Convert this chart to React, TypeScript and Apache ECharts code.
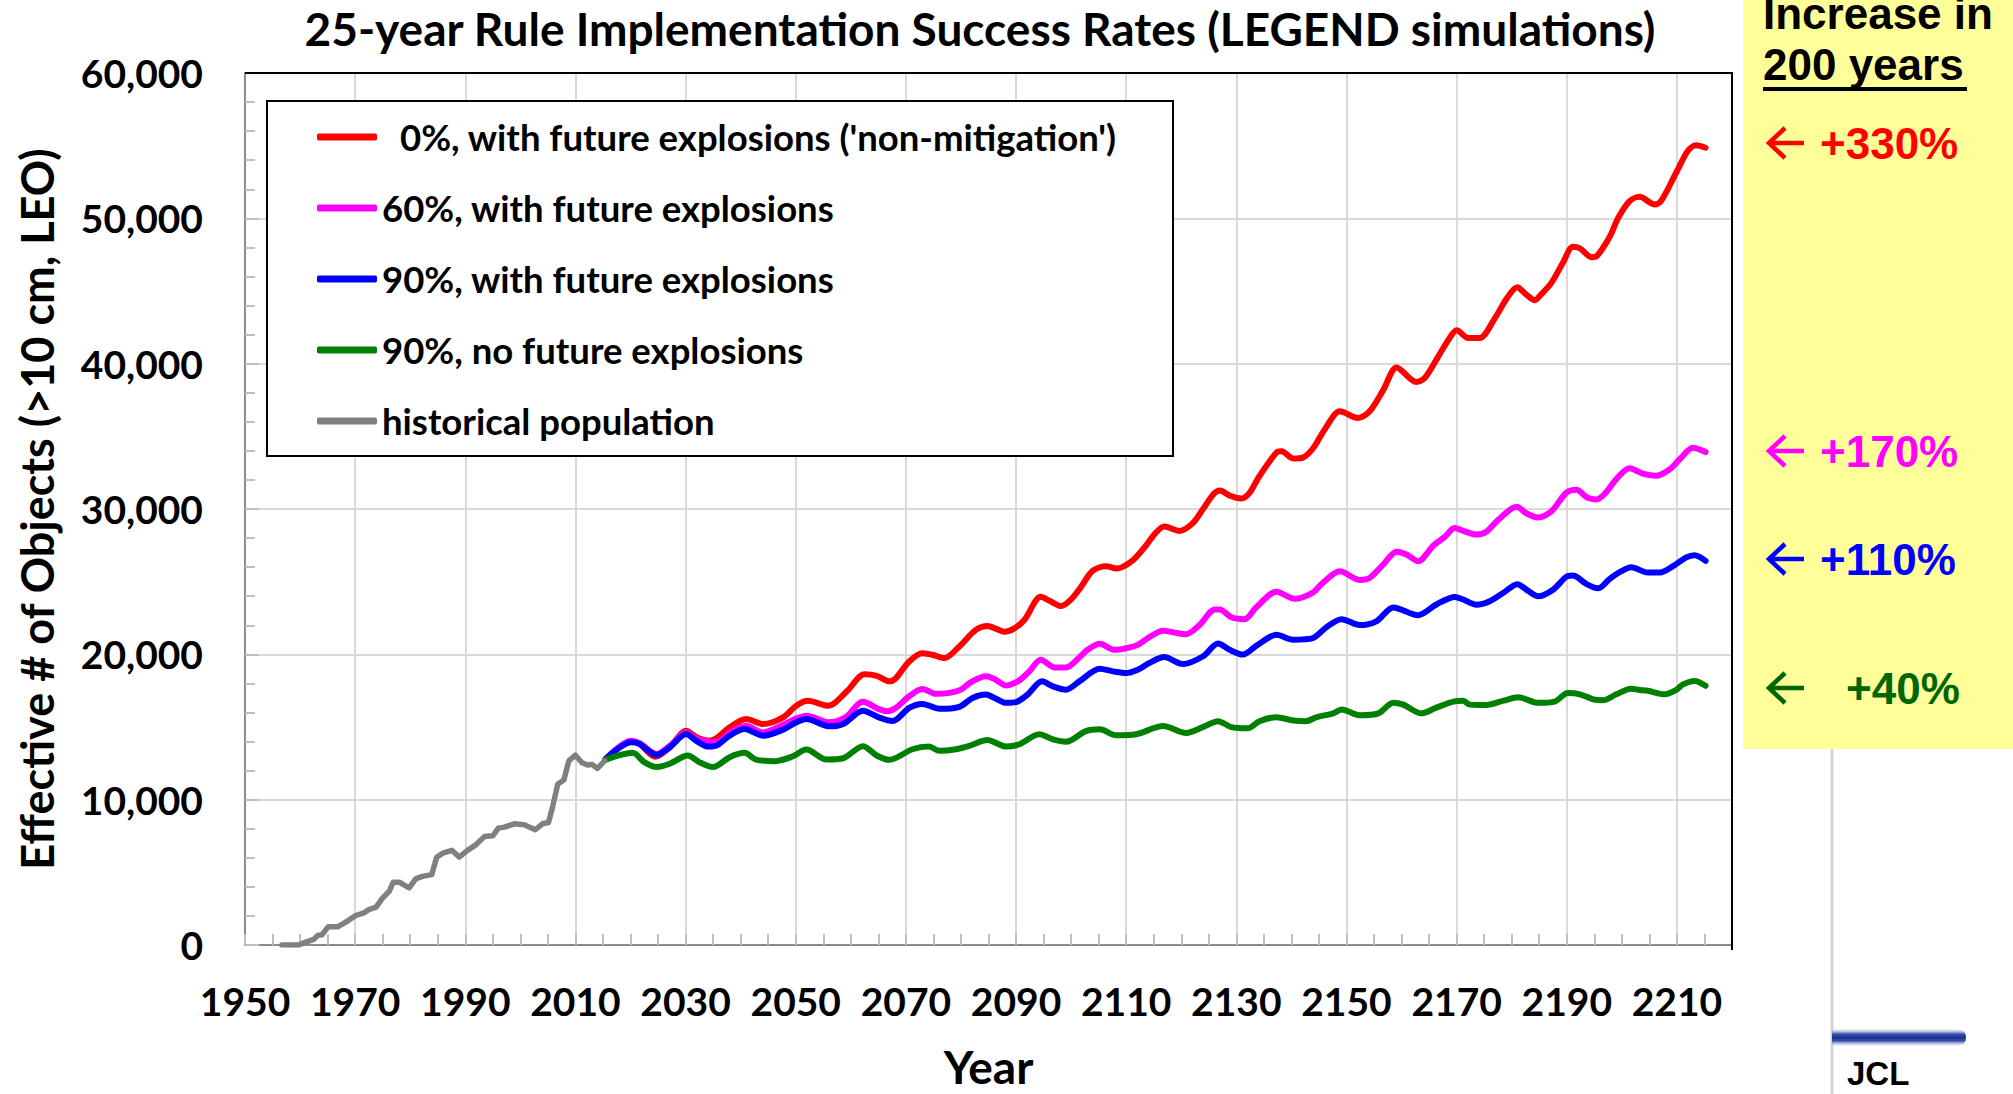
import React, { useEffect, useRef } from "react";
import * as echarts from "echarts";

const TITLE = "25-year Rule Implementation Success Rates (LEGEND simulations)";
const Y_NAME = "Effective # of Objects (>10 cm, LEO)";
const X_NAME = "Year";

const SERIES_NAMES = [
  "0%, with future explosions ('non-mitigation')",
  "60%, with future explosions",
  "90%, with future explosions",
  "90%, no future explosions",
  "historical population",
];
const SERIES_COLORS = ["#ff0000", "#ff00ff", "#0000ff", "#008000", "#808080"];

const X_MIN = 1950;
const X_MAX = 2220;
const Y_MAX = 60000;

const INCREASE_LABELS = ["+330%", "+170%", "+110%", "+40%"];
const INCREASE_COLORS = ["#ff0000", "#ff00ff", "#0000ff", "#006600"];

const nonMitigation: [number, number][] = [
  [2015.5, 12800], [2020.1, 14000], [2021.6, 13850], [2024.5, 12950], [2027.1, 13600],
  [2030.1, 14750], [2032.0, 14300], [2034.4, 14060], [2035.6, 14220], [2038.0, 14980],
  [2041.0, 15550], [2044.1, 15200], [2047.7, 15660], [2050.1, 16460], [2052.2, 16800],
  [2055.9, 16460], [2059.2, 17420], [2062.5, 18630], [2064.7, 18520], [2067.0, 18140],
  [2068.2, 18370], [2070.6, 19510], [2073.0, 20080], [2074.8, 19970], [2077.0, 19740],
  [2079.7, 20540], [2082.7, 21680], [2084.8, 21950], [2087.9, 21560], [2089.7, 21790],
  [2091.5, 22360], [2094.5, 23960], [2096.1, 23680], [2098.2, 23320], [2100.0, 23780],
  [2101.8, 24640], [2103.9, 25740], [2106.4, 26060], [2108.2, 25900], [2111.2, 26470],
  [2113.6, 27490], [2115.2, 28290], [2116.9, 28790], [2119.7, 28490], [2122.1, 29030],
  [2123.9, 29970], [2125.8, 31000], [2127.0, 31270], [2128.8, 30920], [2130.9, 30730],
  [2132.4, 31110], [2134.2, 32270], [2137.3, 33890], [2138.2, 33970], [2140.3, 33480],
  [2142.1, 33540], [2143.9, 34160], [2146.1, 35510], [2148.8, 36720], [2152.1, 36260],
  [2154.2, 36720], [2156.7, 38200], [2159.1, 39740], [2162.7, 38740], [2164.2, 39010],
  [2166.6, 40450], [2168.7, 41750], [2170.0, 42300], [2172.1, 41770], [2174.2, 41770],
  [2176.9, 43100], [2179.1, 44490], [2181.0, 45260], [2182.7, 44730], [2184.2, 44370],
  [2185.4, 44790], [2187.2, 45560], [2189.3, 46950], [2191.1, 48050], [2192.4, 47930],
  [2194.5, 47330], [2195.4, 47390], [2197.8, 48730], [2199.3, 50000], [2201.4, 51180],
  [2203.2, 51480], [2206.0, 50950], [2207.2, 51240], [2209.9, 53170], [2212.0, 54650],
  [2213.5, 55030], [2215.2, 54860],
];

const success60: [number, number][] = [
  [2015.5, 12800], [2020.1, 14050], [2021.6, 13900], [2024.7, 13150], [2027.1, 13700],
  [2030.1, 14630], [2032.0, 14200], [2035.6, 13950], [2038.0, 14600], [2041.0, 15090],
  [2044.0, 14630], [2048.0, 15200], [2050.1, 15590], [2052.0, 15780], [2056.0, 15320],
  [2059.0, 15660], [2062.2, 16730], [2065.2, 16210], [2066.7, 16090], [2068.2, 16320],
  [2070.6, 17120], [2073.0, 17620], [2075.5, 17280], [2077.9, 17350], [2080.0, 17570],
  [2081.8, 18080], [2084.5, 18490], [2086.1, 18300], [2088.2, 17850], [2090.6, 18210],
  [2092.4, 18830], [2094.5, 19630], [2097.0, 19100], [2099.1, 19100], [2101.5, 19790],
  [2103.0, 20310], [2105.2, 20720], [2107.9, 20310], [2110.0, 20420], [2112.1, 20650],
  [2114.2, 21180], [2116.7, 21630], [2119.4, 21450], [2120.9, 21390], [2123.3, 22010],
  [2126.1, 23090], [2127.0, 23090], [2129.1, 22550], [2131.5, 22420], [2133.6, 23230],
  [2137.3, 24310], [2140.6, 23820], [2143.9, 24250], [2145.5, 24850], [2148.8, 25710],
  [2152.4, 25120], [2154.2, 25250], [2156.7, 26190], [2159.1, 27060], [2160.9, 26870],
  [2163.0, 26410], [2165.8, 27490], [2167.9, 28100], [2169.6, 28700], [2171.2, 28500],
  [2173.6, 28240], [2175.4, 28440], [2177.6, 29270], [2180.9, 30160], [2182.7, 29690],
  [2184.8, 29420], [2187.2, 29840], [2189.9, 31110], [2191.8, 31320], [2193.6, 30810],
  [2195.4, 30660], [2196.9, 31050], [2199.0, 32060], [2201.4, 32800], [2203.8, 32440],
  [2206.3, 32290], [2208.7, 32740], [2210.5, 33420], [2212.9, 34220], [2215.2, 33920],
];

const success90: [number, number][] = [
  [2015.5, 12800], [2020.1, 13950], [2021.6, 13835], [2024.7, 13080], [2027.1, 13600],
  [2030.1, 14520], [2031.9, 14060], [2034.1, 13650], [2035.6, 13720], [2038.0, 14400],
  [2040.7, 14860], [2044.1, 14400], [2047.7, 14820], [2050.1, 15320], [2051.9, 15550],
  [2056.2, 15045], [2058.6, 15200], [2062.2, 16120], [2065.2, 15640], [2067.6, 15410],
  [2070.6, 16320], [2073.0, 16590], [2076.1, 16250], [2079.7, 16390], [2082.1, 17000],
  [2084.5, 17230], [2086.1, 17000], [2088.2, 16660], [2090.0, 16710], [2092.1, 17230],
  [2094.7, 18140], [2096.7, 17800], [2099.1, 17570], [2101.5, 18140], [2105.2, 19010],
  [2107.6, 18830], [2110.0, 18710], [2112.1, 18940], [2114.2, 19400], [2116.9, 19810],
  [2120.3, 19330], [2123.9, 19850], [2126.7, 20740], [2128.8, 20310], [2131.2, 19980],
  [2133.6, 20580], [2137.3, 21340], [2140.3, 21010], [2143.9, 21120], [2146.4, 21880],
  [2149.1, 22420], [2152.4, 22010], [2155.5, 22290], [2158.5, 23230], [2163.0, 22690],
  [2166.4, 23450], [2169.7, 23950], [2171.2, 23770], [2173.6, 23410], [2176.0, 23650],
  [2178.5, 24240], [2181.0, 24830], [2183.0, 24360], [2184.8, 24000], [2187.5, 24450],
  [2189.9, 25330], [2191.1, 25420], [2193.6, 24830], [2195.7, 24540], [2197.8, 25190],
  [2199.9, 25720], [2201.7, 25990], [2204.7, 25630], [2206.9, 25630], [2209.3, 26070],
  [2211.7, 26670], [2213.2, 26820], [2215.2, 26430],
];

const success90NoExpl: [number, number][] = [
  [2015.5, 12760], [2020.4, 13220], [2022.5, 12580], [2024.7, 12240], [2027.1, 12470],
  [2030.4, 13040], [2032.5, 12580], [2035.0, 12240], [2038.0, 12920], [2040.7, 13220],
  [2042.8, 12760], [2046.2, 12650], [2049.5, 12990], [2051.9, 13450], [2055.6, 12760],
  [2058.6, 12850], [2062.2, 13680], [2064.7, 13040], [2067.0, 12740], [2071.2, 13470],
  [2074.2, 13650], [2076.1, 13360], [2079.1, 13470], [2081.5, 13700], [2084.8, 14110],
  [2088.2, 13650], [2090.6, 13810], [2094.2, 14500], [2096.7, 14150], [2099.1, 13990],
  [2102.7, 14720], [2105.2, 14840], [2108.2, 14430], [2111.8, 14500], [2116.7, 15070],
  [2120.9, 14590], [2123.9, 14990], [2126.7, 15400], [2129.1, 14990], [2132.1, 14910],
  [2134.2, 15400], [2137.3, 15670], [2140.3, 15450], [2142.7, 15400], [2144.5, 15670],
  [2147.6, 15940], [2149.1, 16210], [2152.4, 15810], [2155.8, 15940], [2158.5, 16670],
  [2160.3, 16540], [2163.6, 15940], [2166.4, 16350], [2169.4, 16750], [2171.2, 16810],
  [2172.4, 16540], [2175.4, 16510], [2178.5, 16810], [2181.2, 17040], [2184.8, 16660],
  [2187.8, 16750], [2190.2, 17340], [2192.4, 17250], [2194.8, 16900], [2196.6, 16840],
  [2199.0, 17250], [2201.7, 17640], [2203.2, 17550], [2204.7, 17490], [2207.8, 17250],
  [2209.9, 17550], [2211.1, 17930], [2213.2, 18170], [2215.2, 17840],
];

const historical: [number, number][] = [
  [1956.7, 0], [1959.8, 0], [1961.0, 200], [1962.5, 390], [1963.2, 660], [1964.0, 710],
  [1965.1, 1250], [1966.8, 1250], [1968.3, 1575], [1970.1, 2030], [1971.6, 2210],
  [1972.5, 2440], [1973.8, 2600], [1975.0, 3240], [1976.2, 3700], [1976.9, 4320],
  [1978.0, 4320], [1979.8, 3930], [1981.0, 4550], [1982.2, 4720], [1983.9, 4840],
  [1984.8, 6030], [1985.9, 6320], [1987.6, 6510], [1988.9, 6050], [1990.4, 6510],
  [1991.9, 6890], [1993.5, 7470], [1995.0, 7510], [1996.0, 8040], [1997.1, 8110],
  [1998.9, 8340], [2000.7, 8270], [2002.7, 7930], [2004.0, 8340], [2005.1, 8430],
  [2005.8, 9410], [2006.8, 11080], [2007.9, 11350], [2008.8, 12670], [2010.0, 13060],
  [2011.2, 12540], [2012.2, 12380], [2013.0, 12430], [2014.0, 12150], [2015.3, 12670],
];

const SERIES_DATA = [nonMitigation, success60, success90, success90NoExpl, historical];

const LATO = "Lato, 'Open Sans', sans-serif";
const ARIAL = "'Liberation Sans', Arial, sans-serif";

export default function App() {
  const ref = useRef<HTMLDivElement>(null);

  useEffect(() => {
    document.body.style.margin = "0";
    const chart = echarts.init(ref.current!, null, { renderer: "svg" });

    const incY = [143, 451, 559, 688];
    const incX = [1820, 1820, 1820, 1846];

    const graphics: any[] = [
      {
        type: "text",
        x: 980,
        y: 28,
        style: {
          text: TITLE,
          fontFamily: LATO,
          fontWeight: "bold",
          fontSize: 46,
          fill: "#000",
          align: "center",
          verticalAlign: "middle",
        },
      },
      {
        type: "rect",
        z: 3,
        shape: { x: 267, y: 101, width: 906, height: 355 },
        style: { fill: "#fff", stroke: "#000", lineWidth: 2 },
      },
      {
        type: "line",
        z: 3,
        shape: { x1: 245, y1: 73, x2: 1733, y2: 73 },
        style: { stroke: "#000", lineWidth: 2 },
      },
      {
        type: "line",
        z: 3,
        shape: { x1: 1732, y1: 72, x2: 1732, y2: 950 },
        style: { stroke: "#000", lineWidth: 2 },
      },
      {
        type: "rect",
        shape: { x: 1743, y: 0, width: 270, height: 749 },
        style: { fill: "#ffff99" },
      },
      {
        type: "text",
        x: 1763,
        y: 13,
        style: {
          text: "Increase in",
          fontFamily: ARIAL,
          fontWeight: "bold",
          fontSize: 44,
          fill: "#000",
          align: "left",
          verticalAlign: "middle",
        },
      },
      {
        type: "text",
        x: 1763,
        y: 64,
        style: {
          text: "200 years",
          fontFamily: ARIAL,
          fontWeight: "bold",
          fontSize: 44,
          fill: "#000",
          align: "left",
          verticalAlign: "middle",
        },
      },
      {
        type: "line",
        shape: { x1: 1763, y1: 89, x2: 1967, y2: 89 },
        style: { stroke: "#000", lineWidth: 4 },
      },
      {
        type: "line",
        shape: { x1: 1832, y1: 749, x2: 1832, y2: 1094 },
        style: { stroke: "#d4d4d4", lineWidth: 3 },
      },
      {
        type: "rect",
        shape: { x: 1832, y: 1029, width: 134, height: 17, r: [0, 8, 8, 0] },
        style: {
          fill: new echarts.graphic.LinearGradient(0, 0, 0, 1, [
            { offset: 0, color: "rgba(220,225,240,0.3)" },
            { offset: 0.3, color: "#3a4fa8" },
            { offset: 0.5, color: "#1a3399" },
            { offset: 0.7, color: "#3a4fa8" },
            { offset: 1, color: "rgba(220,225,240,0.3)" },
          ]),
        },
      },
      {
        type: "text",
        x: 1847,
        y: 1073,
        style: {
          text: "JCL",
          fontFamily: ARIAL,
          fontWeight: "bold",
          fontSize: 33,
          fill: "#000",
          align: "left",
          verticalAlign: "middle",
        },
      },
    ];

    INCREASE_LABELS.forEach((lab, i) => {
      const y = incY[i];
      graphics.push({
        type: "polyline",
        shape: { points: [[1785, y - 15], [1769, y], [1785, y + 15]] },
        style: { stroke: INCREASE_COLORS[i], lineWidth: 4.5, fill: null, lineJoin: "miter" },
      });
      graphics.push({
        type: "line",
        shape: { x1: 1770, y1: y, x2: 1804, y2: y },
        style: { stroke: INCREASE_COLORS[i], lineWidth: 4.5 },
      });
      graphics.push({
        type: "text",
        x: incX[i],
        y,
        style: {
          text: lab,
          fontFamily: ARIAL,
          fontWeight: "bold",
          fontSize: 44,
          fill: INCREASE_COLORS[i],
          align: "left",
          verticalAlign: "middle",
        },
      });
    });

    const axisFont = { fontFamily: LATO, fontWeight: "bold" as const, color: "#000" };

    chart.setOption({
      animation: false,
      backgroundColor: "#fff",
      grid: { left: 245, right: 281, top: 73, bottom: 145, containLabel: false },
      xAxis: {
        type: "value",
        min: X_MIN,
        max: X_MAX,
        interval: 10,
        axisLine: { show: true, onZero: false, lineStyle: { color: "#8c8c8c", width: 2 } },
        axisTick: { show: true, inside: true, length: 11, lineStyle: { color: "#bfbfbf", width: 2 } },
        minorTick: { show: true, splitNumber: 2, length: 11, lineStyle: { color: "#bfbfbf", width: 2 } },
        splitLine: { show: true, lineStyle: { color: ["#d9d9d9", "rgba(0,0,0,0)"], width: 2 } },
        axisLabel: {
          ...axisFont,
          fontSize: 39,
          margin: 36,
          formatter: (v: number) => ((v - X_MIN) % 20 === 0 && v < X_MAX ? String(v) : ""),
        },
        name: X_NAME,
        nameLocation: "middle",
        nameGap: 98,
        nameTextStyle: { ...axisFont, fontSize: 46 },
      },
      yAxis: {
        type: "value",
        min: 0,
        max: Y_MAX,
        interval: 10000,
        axisLine: { show: true, lineStyle: { color: "#8c8c8c", width: 2 } },
        axisTick: { show: true, inside: true, length: 14, lineStyle: { color: "#bfbfbf", width: 2 } },
        minorTick: { show: true, splitNumber: 5, length: 10, lineStyle: { color: "#bfbfbf", width: 2 } },
        splitLine: { show: true, lineStyle: { color: "#d9d9d9", width: 2 } },
        axisLabel: {
          ...axisFont,
          fontSize: 39,
          margin: 42,
          formatter: (v: number) => v.toLocaleString("en-US"),
        },
        name: Y_NAME,
        nameLocation: "middle",
        nameRotate: 90,
        nameGap: 186,
        nameTextStyle: { ...axisFont, fontSize: 45 },
      },
      legend: {
        orient: "vertical",
        left: 317,
        top: 116,
        padding: 0,
        itemGap: 29,
        itemWidth: 60,
        itemHeight: 7,
        icon: "roundRect",
        selectedMode: false,
        z: 10,
        textStyle: { ...axisFont, fontSize: 36.5, lineHeight: 42 },
        data: SERIES_NAMES.map((n, i) =>
          i === 0 ? { name: n, textStyle: { padding: [0, 0, 0, 18] } } : { name: n }
        ),
      },
      graphic: graphics,
      series: SERIES_NAMES.map((name, i) => ({
        name,
        type: "line",
        data: SERIES_DATA[i],
        showSymbol: false,
        symbol: "none",
        smooth: i === 4 ? false : 0.3,
        color: SERIES_COLORS[i],
        itemStyle: { color: SERIES_COLORS[i] },
        lineStyle: { width: i === 4 ? 5.5 : 6, color: SERIES_COLORS[i], cap: "round", join: "round" },
        z: 2 + i,
      })),
    });

    return () => chart.dispose();
  }, []);

  return (
    <div
      ref={ref}
      style={{ position: "fixed", left: 0, top: 0, width: 2013, height: 1094, background: "#fff" }}
    />
  );
}
